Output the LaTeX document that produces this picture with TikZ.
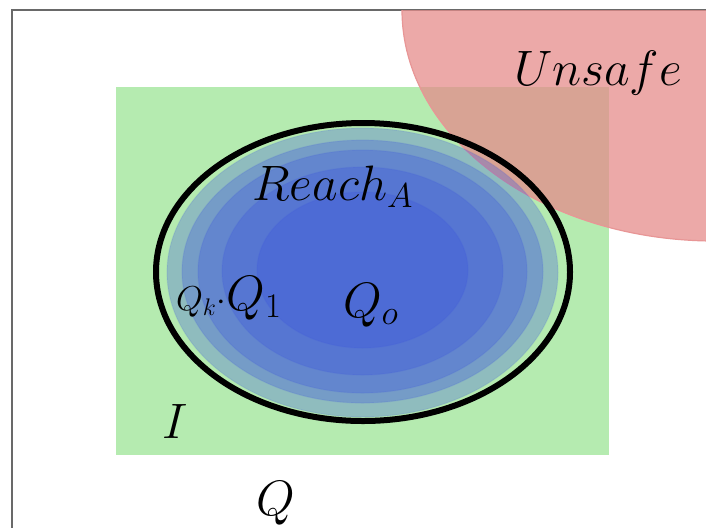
\documentclass[tikz,border=0pt]{standalone}
\usepackage{amsmath,amssymb}
\usepackage{tikz}

\definecolor{initgreen}{RGB}{181,235,176}
\definecolor{unsafered}{RGB}{229,140,139}
\definecolor{unsafeedge}{RGB}{232,150,150}
\definecolor{reachblue}{RGB}{60,85,222}
\definecolor{framegray}{RGB}{105,105,105}

\begin{document}
\begin{tikzpicture}[x=0.5pt,y=0.5pt]
  \tikzstyle{lbl}=[inner sep=0pt,anchor=base,font=\fontsize{24.5}{28}\selectfont]
  \tikzstyle{layer}=[fill=reachblue,fill opacity=0.31,draw=reachblue,draw opacity=0.12,line width=0.6pt]
  \useasboundingbox (0,0) rectangle (706,-527);
  \clip (0,0) rectangle (706,-527);

  % state space Q
  \draw[framegray,line width=1pt] (12,-10) rectangle (730,-560);
  % initial set I
  \fill[initgreen] (116,-87) rectangle (609,-455);
  % unsafe region
  \begin{scope}
    \clip (12,-10) rectangle (730,-560);
    \draw[unsafeedge,fill=unsafered,fill opacity=0.75,line width=0.6pt]
      (715,-10) ellipse [x radius=313,y radius=231];
  \end{scope}

  % iterates Q_o ... Q_k
  \foreach \cy/\rx/\ry in {-272.5/195.5/144.5,-271.5/180.5/131.5,-271.5/164.5/121.5,-271/140.5/104,-270/105.5/78} {
    \path[layer] (362.5,\cy) ellipse [x radius=\rx,y radius=\ry];
  }
  % Reach_A
  \draw[line width=3pt] (363,-272) ellipse [x radius=207,y radius=149];

  \node[lbl] (unsafe) at (598,-85) {$Unsafe$};
  \node[lbl] (reach) at (333,-200) {$Reach_A$};
  \node[lbl] (qk) at (229,-310) {{\fontsize{17}{20}\selectfont$Q_k{\cdot}$}$Q_1$};
  \node[lbl] (qo) at (371,-317) {$Q_o$};
  \node[lbl] (init) at (175,-438) {$I$};
  \node[lbl] (space) at (276,-515) {$Q$};
\end{tikzpicture}
\end{document}
